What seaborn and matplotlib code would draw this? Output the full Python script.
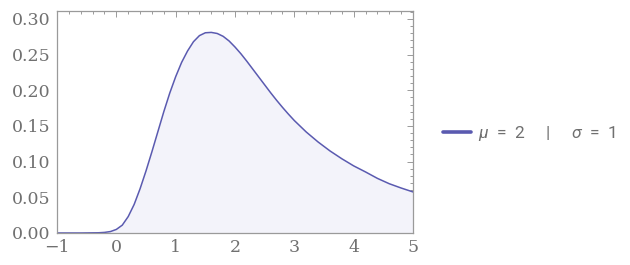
import matplotlib
matplotlib.use("Agg")
import matplotlib.pyplot as plt
import seaborn as sns
import pandas as pd
from matplotlib.ticker import MultipleLocator

# Curve values
x_vals = [-1.0, -0.6, -0.3, -0.2, -0.1, 0.0, 0.1, 0.2, 0.3, 0.4,
          0.5, 0.6, 0.7, 0.8, 0.9, 1.0, 1.1, 1.2, 1.3, 1.4,
          1.5, 1.6, 1.7, 1.8, 1.9, 2.0, 2.1, 2.2, 2.3, 2.4,
          2.5, 2.6, 2.7, 2.8, 2.9, 3.0, 3.2, 3.4, 3.6, 3.8,
          4.0, 4.2, 4.4, 4.6, 4.8, 5.0]
y_vals = [0.0, 0.0, 0.0003, 0.0008, 0.002, 0.005, 0.011, 0.023, 0.040, 0.062,
          0.087, 0.114, 0.142, 0.170, 0.196, 0.219, 0.239, 0.255, 0.268, 0.2765,
          0.2805, 0.281, 0.2795, 0.2755, 0.269, 0.2605, 0.251, 0.2405, 0.2295, 0.2185,
          0.2075, 0.1965, 0.186, 0.176, 0.1665, 0.1575, 0.1415, 0.1275, 0.115, 0.104,
          0.094, 0.0855, 0.0765, 0.069, 0.063, 0.0575]
legend_label = "$\\mu$  =  2     |     $\\sigma$  =  1"
x_ticks = [-1, 0, 1, 2, 3, 4, 5]
y_ticks = [0.00, 0.05, 0.10, 0.15, 0.20, 0.25, 0.30]

sns.set_style("white")
plt.rcParams['font.family'] = ['DejaVu Sans']
plt.rcParams['mathtext.fontset'] = 'custom'
plt.rcParams['mathtext.it'] = 'Roboto:italic'
plt.rcParams['mathtext.rm'] = 'Roboto'

line_color = "#5a5ab0"
fill_color = "#f3f3fa"
frame_color = "#9a9a9a"
label_color = "#707070"

df = pd.DataFrame({"x": x_vals, "y": y_vals})

fig = plt.figure(figsize=(6.3, 2.65), dpi=100)
ax = fig.add_axes([0.0905, 0.1208, 0.5651, 0.8377])

ax.fill_between(df["x"], 0, df["y"], color=fill_color, linewidth=0)
sns.lineplot(data=df, x="x", y="y", ax=ax, color=line_color, linewidth=1.1,
             label=legend_label)

ax.set_xlim(-1, 5)
ax.set_ylim(0, 0.311)
ax.set_xticks(x_ticks)
ax.set_xticklabels([("\u2212" + str(abs(t))) if t < 0 else str(t) for t in x_ticks])
ax.set_yticks(y_ticks)
ax.set_yticklabels([f"{t:.2f}" for t in y_ticks])
ax.xaxis.set_minor_locator(MultipleLocator(0.2))
ax.yaxis.set_minor_locator(MultipleLocator(0.01))
ax.set_xlabel("")
ax.set_ylabel("")

for s in ax.spines.values():
    s.set_color(frame_color)
    s.set_linewidth(0.9)

ax.tick_params(which="both", direction="in", top=True, right=True,
               color=frame_color, width=0.7)
ax.tick_params(which="major", length=4, labelsize=12.5, labelcolor=label_color)
ax.tick_params(axis="x", which="major", pad=4)
ax.tick_params(axis="y", which="major", pad=4.5)
ax.tick_params(which="minor", length=2)
for lab in ax.get_xticklabels() + ax.get_yticklabels():
    lab.set_fontfamily("DejaVu Serif")

leg = ax.legend(loc="center left", bbox_to_anchor=(1.04, 0.446), frameon=False,
                handlelength=1.6, handletextpad=0.45, fontsize=12.5)
for t in leg.get_texts():
    t.set_color(label_color)
    t.set_fontfamily("Roboto")
for h in leg.get_lines():
    h.set_linewidth(2.6)

fig.savefig("out.png", dpi=100)
